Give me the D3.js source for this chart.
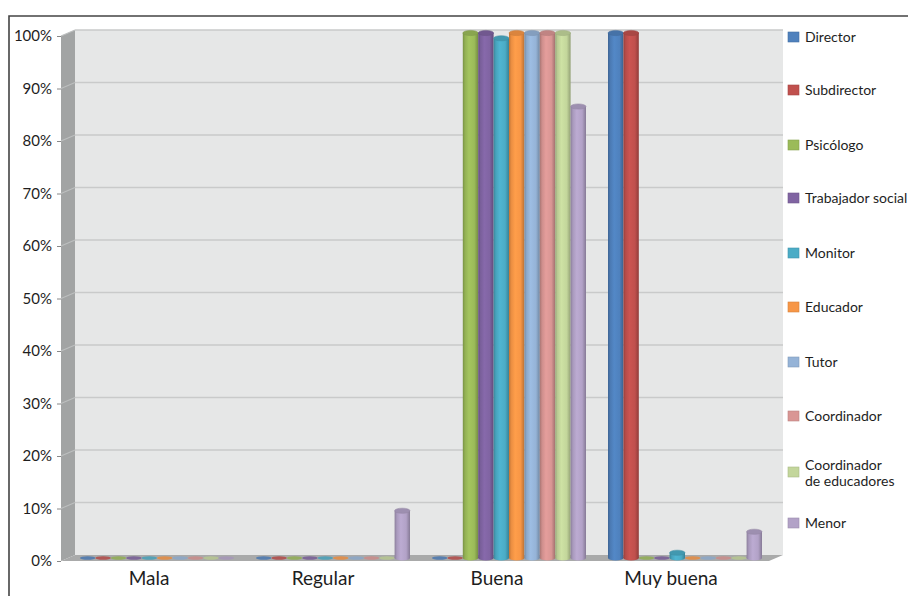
<!DOCTYPE html>
<html><head><meta charset="utf-8">
<script src="https://cdn.jsdelivr.net/npm/d3@7"></script>
<style>
body{margin:0;background:#fff}
svg{display:block}
text{font-family:Lato,"Open Sans",sans-serif;fill:#1e1e1e}
</style>
</head><body>
<svg id="chart" width="908" height="596"></svg>
<script>
// Rating categories and respondent groups
const categories = ["Mala", "Regular", "Buena", "Muy buena"];
const roles = ["Director", "Subdirector", "Psicólogo", "Trabajador social", "Monitor",
               "Educador", "Tutor", "Coordinador", "Coordinador de educadores", "Menor"];
const roleColors = ["#4F81BD", "#C0504D", "#9BBB59", "#8064A2", "#4BACC6",
                    "#F79646", "#95B3D7", "#D99694", "#C3D69B", "#B2A2C7"];

// Percentages per role, in category order (Mala, Regular, Buena, Muy buena)
const director         = [0, 0, 0, 100];
const subdirector      = [0, 0, 0, 100];
const psicologo        = [0, 0, 100, 0];
const trabajadorSocial = [0, 0, 100, 0];
const monitor          = [0, 0, 99, 1];
const educador         = [0, 0, 100, 0];
const tutor            = [0, 0, 100, 0];
const coordinador      = [0, 0, 100, 0];
const coordEducadores  = [0, 0, 100, 0];
const menor            = [0, 9, 86, 5];
const seriesValues = [director, subdirector, psicologo, trabajadorSocial, monitor,
                      educador, tutor, coordinador, coordEducadores, menor];

const yTicks = [0, 10, 20, 30, 40, 50, 60, 70, 80, 90, 100];

const svg = d3.select("#chart");
const defs = svg.append("defs");

// front plane (axis) and depth offsets of the 3D box
const depthX = 14, depthY = 6;
const axisX = 61;
const y = d3.scaleLinear().domain([0, 100]).range([561, 36]);
const yBar = v => y(v) - depthY / 2;
const wallLeft = axisX + depthX, wallRight = 783;

const x0 = d3.scaleBand().domain(categories).range([69, 773]).paddingInner(0.125).paddingOuter(0.0625);
const x1 = d3.scaleBand().domain(roles).range([0, x0.bandwidth()]);
const xLabel = d3.scaleBand().domain(categories).range([62, 758]);

// outer frame
svg.append("path").attr("d", "M9,596V16H908")
  .attr("fill", "none").attr("stroke", "#444").attr("stroke-width", 1.6);

// back wall
svg.append("rect")
  .attr("x", wallLeft).attr("y", y(100) - depthY)
  .attr("width", wallRight - wallLeft).attr("height", y(0) - y(100))
  .attr("fill", "#E6E7E7");

// side wall
svg.append("polygon")
  .attr("points", [[axisX, y(100)], [wallLeft, y(100) - depthY], [wallLeft, y(0) - depthY], [axisX, y(0)]].join(" "))
  .attr("fill", "#A2A4A4");

// floor
svg.append("polygon")
  .attr("points", [[axisX, y(0)], [wallLeft, y(0) - depthY], [wallRight, y(0) - depthY], [wallRight - depthX, y(0)]].join(" "))
  .attr("fill", "#A9AAAA");

// gridlines on back and side walls
const grid = svg.append("g");
yTicks.filter(t => t > 0).forEach(t => {
  grid.append("line")
    .attr("x1", wallLeft).attr("x2", wallRight)
    .attr("y1", y(t) - depthY).attr("y2", y(t) - depthY)
    .attr("stroke", "#C9CACA").attr("stroke-width", 1.4);
  grid.append("line")
    .attr("x1", axisX).attr("x2", wallLeft)
    .attr("y1", y(t)).attr("y2", y(t) - depthY)
    .attr("stroke", "#BDBFBF").attr("stroke-width", 1.2);
});

// y axis
const yAxis = svg.append("g")
  .attr("transform", `translate(${axisX},0)`)
  .call(d3.axisLeft(y).tickValues(yTicks).tickFormat(d => d + "%").tickSize(4).tickPadding(5));
yAxis.select(".domain").remove();
yAxis.selectAll(".tick line").attr("stroke", "#888");
yAxis.selectAll(".tick text").attr("font-size", 15).attr("fill", "#1e1e1e")
  .attr("font-family", "Lato, 'Open Sans', sans-serif");

// cylinder shading gradients
roles.forEach((r, i) => {
  const c = d3.color(roleColors[i]);
  const g = defs.append("linearGradient").attr("id", "cyl" + i)
    .attr("x1", 0).attr("x2", 1).attr("y1", 0).attr("y2", 0);
  g.append("stop").attr("offset", 0).attr("stop-color", c.darker(0.7));
  g.append("stop").attr("offset", 0.15).attr("stop-color", c.darker(0.15));
  g.append("stop").attr("offset", 0.4).attr("stop-color", c.brighter(0.15));
  g.append("stop").attr("offset", 0.75).attr("stop-color", c);
  g.append("stop").attr("offset", 1).attr("stop-color", c.darker(0.8));
});

// bars
const capRy = 2.6;
const bars = svg.append("g");
categories.forEach((cat, ci) => {
  roles.forEach((r, ri) => {
    const v = seriesValues[ri][ci];
    const bx = x0(cat) + x1(r);
    const w = x1.bandwidth();
    const c = d3.color(roleColors[ri]);
    const top = yBar(v), bottom = yBar(0);
    if (v > 0) {
      bars.append("ellipse")
        .attr("cx", bx + w / 2).attr("cy", bottom).attr("rx", w / 2).attr("ry", capRy)
        .attr("fill", `url(#cyl${ri})`);
      bars.append("rect")
        .attr("x", bx).attr("y", top).attr("width", w).attr("height", bottom - top)
        .attr("fill", `url(#cyl${ri})`);
      bars.append("ellipse")
        .attr("cx", bx + w / 2).attr("cy", top).attr("rx", w / 2).attr("ry", capRy)
        .attr("fill", c.darker(0.35)).attr("stroke", c.darker(0.6)).attr("stroke-width", 0.5);
    } else {
      bars.append("ellipse")
        .attr("cx", bx + w / 2).attr("cy", bottom).attr("rx", w / 2).attr("ry", 1.8)
        .attr("fill", c.darker(0.2)).attr("opacity", 0.85);
    }
  });
});

// category labels
svg.append("g").selectAll("text").data(categories).join("text")
  .attr("x", d => xLabel(d) + xLabel.bandwidth() / 2)
  .attr("y", 585)
  .attr("text-anchor", "middle")
  .attr("font-size", 19)
  .text(d => d);

// legend
const legend = svg.append("g");
const legendY = [37, 90, 145, 198, 253, 307, 362, 416, 472, 523];
const legendLines = roles.map(r => r === "Coordinador de educadores" ? ["Coordinador", "de educadores"] : [r]);
roles.forEach((r, i) => {
  const cy = legendY[i];
  const c = d3.color(roleColors[i]);
  legend.append("rect")
    .attr("x", 788).attr("y", cy - 5).attr("width", 11).attr("height", 10)
    .attr("fill", c).attr("stroke", c.darker(0.4)).attr("stroke-width", 0.6);
  const lines = legendLines[i];
  lines.forEach((line, li) => {
    legend.append("text")
      .attr("x", 805)
      .attr("y", lines.length > 1 ? cy - 2 + li * 16 : cy + 5)
      .attr("font-size", 14)
      .text(line);
  });
});
</script>
</body></html>
